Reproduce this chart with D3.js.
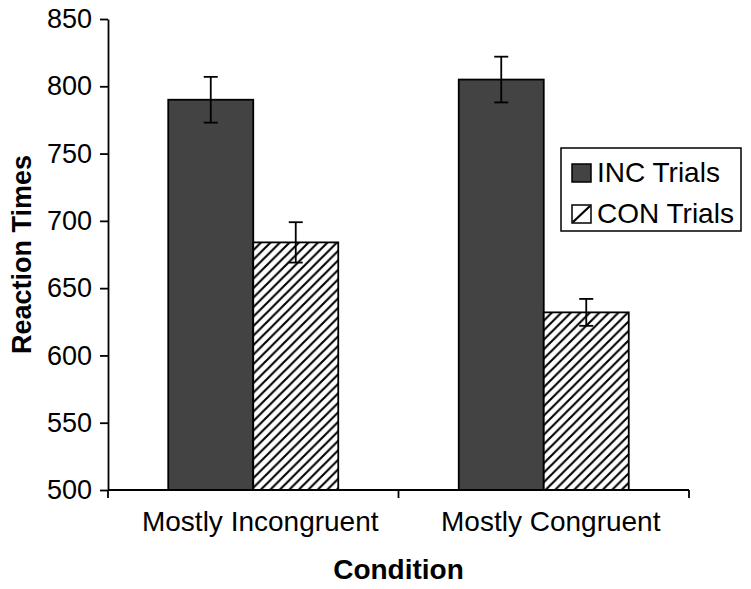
<!DOCTYPE html>
<html><head><meta charset="utf-8">
<script src="https://cdn.jsdelivr.net/npm/d3@7"></script>
<style>body{margin:0;background:#fff}svg{display:block;font-family:"Liberation Sans",Arial,sans-serif}</style>
</head><body><svg id="c" width="751" height="589"></svg>
<script>
const categories = ["Mostly Incongruent", "Mostly Congruent"];
const seriesNames = ["INC Trials", "CON Trials"];
const incValues = [790, 805];
const conValues = [684, 632];
const incErrors = [17, 17];
const conErrors = [15, 10];
const yTicks = [500, 550, 600, 650, 700, 750, 800, 850];

const svg = d3.select("#c");
const m = {l:108, r:62, t:19, b:99};
const W = 751, H = 589;
const x = d3.scaleBand().domain(categories).range([m.l, W - m.r]).paddingInner(0).paddingOuter(0);
const y = d3.scaleLinear().domain([500, 850]).range([H - m.b, m.t]);
const barW = 85;

const defs = svg.append("defs");
const pat = defs.append("pattern").attr("id","hatch").attr("patternUnits","userSpaceOnUse")
  .attr("width",9.5).attr("height",9.5);
pat.append("rect").attr("width",9.5).attr("height",9.5).attr("fill","#fff");
pat.append("path").attr("d","M-2,11.5 L11.5,-2 M-7,7 L7,-7 M2.5,16.5 L16.5,2.5").attr("stroke","#000").attr("stroke-width",2.1);

const data = categories.map((c,i)=>[
  {cat:c, s:0, v:incValues[i], e:incErrors[i]},
  {cat:c, s:1, v:conValues[i], e:conErrors[i]}
]).flat();

const bx = d => x(d.cat) + x.bandwidth()/2 - barW + d.s*barW;

svg.selectAll("rect.bar").data(data).join("rect").attr("class","bar")
  .attr("x", bx).attr("width", barW)
  .attr("y", d=>y(d.v)).attr("height", d=>y(500)-y(d.v))
  .attr("fill", d=>d.s===0?"#434343":"url(#hatch)")
  .attr("stroke","#000").attr("stroke-width",1.8);

const eb = svg.selectAll("g.eb").data(data).join("g").attr("class","eb")
  .attr("stroke","#000").attr("stroke-width",1.8);
eb.append("line").attr("x1",d=>bx(d)+barW/2).attr("x2",d=>bx(d)+barW/2)
  .attr("y1",d=>y(d.v+d.e)).attr("y2",d=>y(d.v-d.e));
eb.append("line").attr("x1",d=>bx(d)+barW/2-7).attr("x2",d=>bx(d)+barW/2+7)
  .attr("y1",d=>y(d.v+d.e)).attr("y2",d=>y(d.v+d.e));
eb.append("line").attr("x1",d=>bx(d)+barW/2-7).attr("x2",d=>bx(d)+barW/2+7)
  .attr("y1",d=>y(d.v-d.e)).attr("y2",d=>y(d.v-d.e));

// y axis
const ya = svg.append("g").attr("transform",`translate(${m.l},0)`)
  .call(d3.axisLeft(y).tickValues(yTicks).tickSize(8).tickSizeOuter(0).tickPadding(8));
ya.select(".domain").attr("stroke","#000").attr("stroke-width",1.8);
ya.selectAll(".tick line").attr("stroke","#000").attr("stroke-width",1.8);
ya.selectAll(".tick text").attr("font-size",27).attr("fill","#000").attr("font-family","Liberation Sans, Arial, sans-serif");

// x axis
const xa = svg.append("g").attr("transform",`translate(0,${y(500)})`);
xa.append("line").attr("x1",m.l).attr("x2",W-m.r).attr("stroke","#000").attr("stroke-width",1.8);
const bounds = [x.range()[0]].concat(categories.map(c=>x(c)+x.bandwidth()));
xa.selectAll("line.t").data(bounds).join("line").attr("class","t")
  .attr("x1",d=>d).attr("x2",d=>d).attr("y1",0).attr("y2",8).attr("stroke","#000").attr("stroke-width",1.8);
xa.selectAll("text").data(categories).join("text")
  .attr("x",c=>x(c)+x.bandwidth()/2+7).attr("y",41).attr("text-anchor","middle")
  .attr("font-size",28).attr("fill","#000").text(c=>c);

svg.append("text").attr("x",(m.l+W-m.r)/2).attr("y",579).attr("text-anchor","middle")
  .attr("font-size",28).attr("font-weight","bold").text("Condition");
svg.append("text").attr("transform",`translate(31,${(m.t+H-m.b)/2}) rotate(-90)`)
  .attr("text-anchor","middle").attr("font-size",27).attr("font-weight","bold").text("Reaction Times");

// legend
const lg = svg.append("g").attr("transform","translate(561,148)");
lg.append("rect").attr("width",180).attr("height",83).attr("fill","#fff").attr("stroke","#000").attr("stroke-width",1.5);
const li = lg.selectAll("g").data(seriesNames).join("g").attr("transform",(d,i)=>`translate(11,${25+i*41})`);
li.append("rect").attr("x",0).attr("y",-9).attr("width",19).attr("height",18)
  .attr("fill",(d,i)=>i===0?"#434343":"#fff").attr("stroke","#000").attr("stroke-width",1.5);
li.filter((d,i)=>i===1).append("line").attr("x1",1).attr("y1",8).attr("x2",18).attr("y2",-8).attr("stroke","#000").attr("stroke-width",2.2);
li.append("text").attr("x",25).attr("y",9).attr("font-size",28).attr("fill","#000").text(d=>d);
</script></body></html>
